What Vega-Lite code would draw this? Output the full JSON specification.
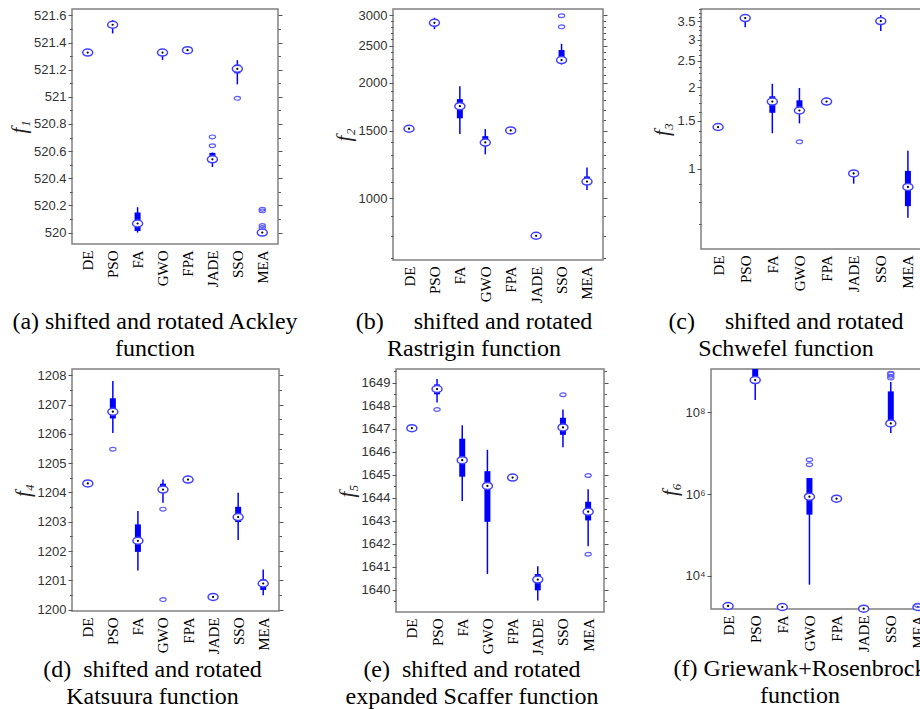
{
  "$schema": "https://vega.github.io/schema/vega-lite/v6.json",
  "background": "white",
  "padding": {"left": 7, "top": 2, "right": 0, "bottom": 0},
  "bounds": "flush",
  "spacing": 360,
  "datasets": {
    "stats": [
      {"f": "f1", "alg": "DE", "lo": 521.326, "q1": 521.326, "med": 521.326, "q3": 521.326, "hi": 521.326},
      {"f": "f1", "alg": "PSO", "lo": 521.467, "q1": 521.524, "med": 521.531, "q3": 521.548, "hi": 521.565},
      {"f": "f1", "alg": "FA", "lo": 520.0, "q1": 520.012, "med": 520.067, "q3": 520.148, "hi": 520.187},
      {"f": "f1", "alg": "GWO", "lo": 521.272, "q1": 521.318, "med": 521.326, "q3": 521.334, "hi": 521.336},
      {"f": "f1", "alg": "FPA", "lo": 521.344, "q1": 521.344, "med": 521.344, "q3": 521.344, "hi": 521.344},
      {"f": "f1", "alg": "JADE", "lo": 520.483, "q1": 520.538, "med": 520.54, "q3": 520.587, "hi": 520.59},
      {"f": "f1", "alg": "SSO", "lo": 521.092, "q1": 521.173, "med": 521.206, "q3": 521.237, "hi": 521.27},
      {"f": "f1", "alg": "MEA", "lo": 519.998, "q1": 520.0, "med": 520.0, "q3": 520.004, "hi": 520.008},
      {"f": "f2", "alg": "DE", "lo": 1518, "q1": 1518, "med": 1518, "q3": 1518, "hi": 1518},
      {"f": "f2", "alg": "PSO", "lo": 2757, "q1": 2850, "med": 2865, "q3": 2930, "hi": 2953},
      {"f": "f2", "alg": "FA", "lo": 1470, "q1": 1616, "med": 1738, "q3": 1813, "hi": 1957},
      {"f": "f2", "alg": "GWO", "lo": 1302, "q1": 1367, "med": 1398, "q3": 1452, "hi": 1515},
      {"f": "f2", "alg": "FPA", "lo": 1503, "q1": 1503, "med": 1503, "q3": 1503, "hi": 1503},
      {"f": "f2", "alg": "JADE", "lo": 799, "q1": 799, "med": 799, "q3": 799, "hi": 799},
      {"f": "f2", "alg": "SSO", "lo": 2231, "q1": 2254, "med": 2291, "q3": 2433, "hi": 2527},
      {"f": "f2", "alg": "MEA", "lo": 1052, "q1": 1101, "med": 1106, "q3": 1140, "hi": 1204},
      {"f": "f3", "alg": "DE", "lo": 1.424, "q1": 1.424, "med": 1.424, "q3": 1.424, "hi": 1.424},
      {"f": "f3", "alg": "PSO", "lo": 3.33, "q1": 3.55, "med": 3.6, "q3": 3.66, "hi": 3.7},
      {"f": "f3", "alg": "FA", "lo": 1.351, "q1": 1.607, "med": 1.768, "q3": 1.85, "hi": 2.058},
      {"f": "f3", "alg": "GWO", "lo": 1.469, "q1": 1.62, "med": 1.639, "q3": 1.788, "hi": 1.985},
      {"f": "f3", "alg": "FPA", "lo": 1.768, "q1": 1.768, "med": 1.768, "q3": 1.768, "hi": 1.768},
      {"f": "f3", "alg": "JADE", "lo": 0.879, "q1": 0.955, "med": 0.959, "q3": 0.962, "hi": 0.962},
      {"f": "f3", "alg": "SSO", "lo": 3.225, "q1": 3.47, "med": 3.51, "q3": 3.58, "hi": 3.7},
      {"f": "f3", "alg": "MEA", "lo": 0.658, "q1": 0.726, "med": 0.855, "q3": 0.98, "hi": 1.164},
      {"f": "f4", "alg": "DE", "lo": 1204.31, "q1": 1204.31, "med": 1204.31, "q3": 1204.31, "hi": 1204.31},
      {"f": "f4", "alg": "PSO", "lo": 1206.03, "q1": 1206.53, "med": 1206.76, "q3": 1207.22, "hi": 1207.81},
      {"f": "f4", "alg": "FA", "lo": 1201.33, "q1": 1201.97, "med": 1202.35, "q3": 1202.91, "hi": 1203.37},
      {"f": "f4", "alg": "GWO", "lo": 1203.65, "q1": 1204.04, "med": 1204.1, "q3": 1204.3, "hi": 1204.44},
      {"f": "f4", "alg": "FPA", "lo": 1204.44, "q1": 1204.44, "med": 1204.44, "q3": 1204.44, "hi": 1204.44},
      {"f": "f4", "alg": "JADE", "lo": 1200.43, "q1": 1200.43, "med": 1200.43, "q3": 1200.43, "hi": 1200.43},
      {"f": "f4", "alg": "SSO", "lo": 1202.38, "q1": 1202.99, "med": 1203.16, "q3": 1203.51, "hi": 1203.99},
      {"f": "f4", "alg": "MEA", "lo": 1200.49, "q1": 1200.67, "med": 1200.89, "q3": 1201.03, "hi": 1201.37},
      {"f": "f5", "alg": "DE", "lo": 1647.02, "q1": 1647.02, "med": 1647.02, "q3": 1647.02, "hi": 1647.02},
      {"f": "f5", "alg": "PSO", "lo": 1648.13, "q1": 1648.49, "med": 1648.72, "q3": 1648.92, "hi": 1649.16},
      {"f": "f5", "alg": "FA", "lo": 1643.85, "q1": 1644.91, "med": 1645.63, "q3": 1646.56, "hi": 1647.15},
      {"f": "f5", "alg": "GWO", "lo": 1640.68, "q1": 1642.95, "med": 1644.51, "q3": 1645.15, "hi": 1646.08},
      {"f": "f5", "alg": "FPA", "lo": 1644.87, "q1": 1644.87, "med": 1644.87, "q3": 1644.87, "hi": 1644.87},
      {"f": "f5", "alg": "JADE", "lo": 1639.53, "q1": 1639.97, "med": 1640.44, "q3": 1640.68, "hi": 1641.02},
      {"f": "f5", "alg": "SSO", "lo": 1646.19, "q1": 1646.73, "med": 1647.05, "q3": 1647.47, "hi": 1647.83},
      {"f": "f5", "alg": "MEA", "lo": 1641.89, "q1": 1643.01, "med": 1643.39, "q3": 1643.82, "hi": 1644.36},
      {"f": "f6", "alg": "DE", "lo": 1849, "q1": 1849, "med": 1849, "q3": 1849, "hi": 1849},
      {"f": "f6", "alg": "PSO", "lo": 200000000, "q1": 500000000, "med": 617000000, "q3": 1200000000, "hi": 1500000000},
      {"f": "f6", "alg": "FA", "lo": 1746, "q1": 1746, "med": 1746, "q3": 1746, "hi": 1746},
      {"f": "f6", "alg": "GWO", "lo": 6140, "q1": 316000, "med": 869000, "q3": 2480000, "hi": 2480000},
      {"f": "f6", "alg": "FPA", "lo": 776000, "q1": 776000, "med": 776000, "q3": 776000, "hi": 776000},
      {"f": "f6", "alg": "JADE", "lo": 1590, "q1": 1590, "med": 1590, "q3": 1590, "hi": 1590},
      {"f": "f6", "alg": "SSO", "lo": 31300000, "q1": 53800000, "med": 53800000, "q3": 326000000, "hi": 550000000},
      {"f": "f6", "alg": "MEA", "lo": 1746, "q1": 1746, "med": 1746, "q3": 1746, "hi": 1746}
    ],
    "out": [
      {"f": "f1", "alg": "JADE", "v": 520.64},
      {"f": "f1", "alg": "JADE", "v": 520.705},
      {"f": "f1", "alg": "SSO", "v": 520.989},
      {"f": "f1", "alg": "MEA", "v": 520.172},
      {"f": "f1", "alg": "MEA", "v": 520.16},
      {"f": "f1", "alg": "MEA", "v": 520.052},
      {"f": "f1", "alg": "MEA", "v": 520.037},
      {"f": "f2", "alg": "SSO", "v": 2989},
      {"f": "f2", "alg": "SSO", "v": 2796},
      {"f": "f3", "alg": "GWO", "v": 1.255},
      {"f": "f4", "alg": "PSO", "v": 1205.48},
      {"f": "f4", "alg": "GWO", "v": 1203.43},
      {"f": "f4", "alg": "GWO", "v": 1200.34},
      {"f": "f5", "alg": "PSO", "v": 1647.83},
      {"f": "f5", "alg": "SSO", "v": 1648.47},
      {"f": "f5", "alg": "MEA", "v": 1644.96},
      {"f": "f5", "alg": "MEA", "v": 1641.54},
      {"f": "f6", "alg": "GWO", "v": 6970000},
      {"f": "f6", "alg": "GWO", "v": 5260000},
      {"f": "f6", "alg": "SSO", "v": 910000000},
      {"f": "f6", "alg": "SSO", "v": 860000000},
      {"f": "f6", "alg": "SSO", "v": 760000000},
      {"f": "f6", "alg": "SSO", "v": 690000000},
      {"f": "f6", "alg": "MEA", "v": 1900}
    ]
  },
  "vconcat": [
    {
      "bounds": "flush",
      "spacing": 115,
      "hconcat": [
        {
          "width": 206, "height": 235,
          "title": {"text": ["(a) shifted and rotated Ackley", "function"], "offset": 23, "dx": -20},
          "data": {"name": "stats"},
          "transform": [{"filter": "datum.f == 'f1'"}],
          "encoding": {"x": {"field": "alg", "type": "nominal", "scale": {"type": "point", "padding": 0.63, "domain": ["DE", "PSO", "FA", "GWO", "FPA", "JADE", "SSO", "MEA"]}, "axis": {"title": null}}},
          "resolve": {"axis": {"y": "independent"}},
          "layer": [
            {"mark": {"type": "rule", "color": "#0000ff", "strokeWidth": 1.5, "clip": true},
             "encoding": {"y": {"field": "lo", "type": "quantitative", "scale": {"domain": [519.916, 521.647], "nice": false, "zero": false},
               "axis": {"orient": "left", "title": "f₁", "values": [520, 520.1, 520.2, 520.3, 520.4, 520.5, 520.6, 520.7, 520.8, 520.9, 521, 521.1, 521.2, 521.3, 521.4, 521.5, 521.6], "labelExpr": "round(datum.value*10) % 2 == 0 ? '' + datum.value : ''", "tickSize": {"condition": {"test": "round(datum.value*10) % 2 == 0", "value": 4}, "value": 2.5}}},
               "y2": {"field": "hi"}}},
            {"mark": {"type": "bar", "color": "#0000ff", "width": 6, "clip": true},
             "encoding": {"y": {"field": "q1", "type": "quantitative",
               "axis": {"orient": "right", "labels": false, "title": null, "values": [520, 520.1, 520.2, 520.3, 520.4, 520.5, 520.6, 520.7, 520.8, 520.9, 521, 521.1, 521.2, 521.3, 521.4, 521.5, 521.6], "tickSize": {"condition": {"test": "round(datum.value*10) % 2 == 0", "value": 4}, "value": 2.5}}},
               "y2": {"field": "q3"}}},
            {"mark": {"type": "point", "shape": "M-1,0A1,0.7,0,1,1,1,0A1,0.7,0,1,1,-1,0Z", "size": 100, "filled": true, "fill": "white", "stroke": "#4040ff", "strokeWidth": 1.5, "opacity": 1},
             "encoding": {"y": {"field": "med", "type": "quantitative", "axis": null}}},
            {"mark": {"type": "point", "shape": "circle", "size": 5, "filled": true, "color": "black", "opacity": 1},
             "encoding": {"y": {"field": "med", "type": "quantitative", "axis": null}}},
            {"data": {"name": "out"}, "transform": [{"filter": "datum.f == 'f1'"}],
             "mark": {"type": "point", "shape": "M-1,0A1,0.6,0,1,1,1,0A1,0.6,0,1,1,-1,0Z", "size": 40, "filled": false, "stroke": "#5c5cff", "strokeWidth": 1.2, "opacity": 1},
             "encoding": {"y": {"field": "v", "type": "quantitative", "axis": null}}}
          ]
        },
        {
          "bounds": "flush",
          "spacing": 98,
          "hconcat": [
            {
              "width": 210, "height": 251,
              "title": {"text": ["(b)\u00a0\u00a0\u00a0\u00a0 shifted and rotated", "Rastrigin function"], "offset": 7, "dx": -24},
              "data": {"name": "stats"},
              "transform": [{"filter": "datum.f == 'f2'"}],
              "encoding": {"x": {"field": "alg", "type": "nominal", "scale": {"type": "point", "padding": 0.63, "domain": ["DE", "PSO", "FA", "GWO", "FPA", "JADE", "SSO", "MEA"]}, "axis": {"title": null}}},
              "resolve": {"axis": {"y": "independent"}},
              "layer": [
                {"mark": {"type": "rule", "color": "#0000ff", "strokeWidth": 1.5, "clip": true},
                 "encoding": {"y": {"field": "lo", "type": "quantitative", "scale": {"type": "log", "domain": [691, 3112], "nice": false, "zero": false},
                   "axis": {"orient": "left", "title": "f₂", "values": [700, 800, 900, 1000, 1100, 1200, 1300, 1400, 1500, 1600, 1700, 1800, 1900, 2000, 2100, 2200, 2300, 2400, 2500, 2600, 2700, 2800, 2900, 3000], "labelExpr": "datum.value % 500 == 0 && datum.value >= 1000 ? '' + datum.value : ''", "tickSize": {"condition": {"test": "datum.value % 500 == 0 && datum.value >= 1000", "value": 4}, "value": 2.5}}},
                   "y2": {"field": "hi"}}},
                {"mark": {"type": "bar", "color": "#0000ff", "width": 6, "clip": true},
                 "encoding": {"y": {"field": "q1", "type": "quantitative",
                   "axis": {"orient": "right", "labels": false, "title": null, "values": [700, 800, 900, 1000, 1100, 1200, 1300, 1400, 1500, 1600, 1700, 1800, 1900, 2000, 2100, 2200, 2300, 2400, 2500, 2600, 2700, 2800, 2900, 3000], "tickSize": {"condition": {"test": "datum.value % 500 == 0 && datum.value >= 1000", "value": 4}, "value": 2.5}}},
                   "y2": {"field": "q3"}}},
                {"mark": {"type": "point", "shape": "M-1,0A1,0.7,0,1,1,1,0A1,0.7,0,1,1,-1,0Z", "size": 100, "filled": true, "fill": "white", "stroke": "#4040ff", "strokeWidth": 1.5, "opacity": 1},
                 "encoding": {"y": {"field": "med", "type": "quantitative", "axis": null}}},
                {"mark": {"type": "point", "shape": "circle", "size": 5, "filled": true, "color": "black", "opacity": 1},
                 "encoding": {"y": {"field": "med", "type": "quantitative", "axis": null}}},
                {"data": {"name": "out"}, "transform": [{"filter": "datum.f == 'f2'"}],
                 "mark": {"type": "point", "shape": "M-1,0A1,0.6,0,1,1,1,0A1,0.6,0,1,1,-1,0Z", "size": 40, "filled": false, "stroke": "#5c5cff", "strokeWidth": 1.2, "opacity": 1},
                 "encoding": {"y": {"field": "v", "type": "quantitative", "axis": null}}}
              ]
            },
            {
              "width": 224, "height": 240,
              "title": {"text": ["(c)\u00a0\u00a0\u00a0\u00a0 shifted and rotated", "Schwefel function"], "offset": 18, "dx": -27},
              "data": {"name": "stats"},
              "transform": [{"filter": "datum.f == 'f3'"}],
              "encoding": {"x": {"field": "alg", "type": "nominal", "scale": {"type": "point", "padding": 0.63, "domain": ["DE", "PSO", "FA", "GWO", "FPA", "JADE", "SSO", "MEA"]}, "axis": {"title": null}}},
              "resolve": {"axis": {"y": "independent"}},
              "layer": [
                {"mark": {"type": "rule", "color": "#0000ff", "strokeWidth": 1.5, "clip": true},
                 "encoding": {"y": {"field": "lo", "type": "quantitative", "scale": {"type": "log", "domain": [0.504, 3.89], "nice": false, "zero": false},
                   "axis": {"orient": "left", "title": "f₃", "values": [0.625, 0.75, 0.875, 1, 1.125, 1.25, 1.375, 1.5, 1.625, 1.75, 1.875, 2, 2.125, 2.25, 2.375, 2.5, 2.625, 2.75, 2.875, 3, 3.125, 3.25, 3.375, 3.5, 3.625, 3.75, 3.875], "labelExpr": "datum.value >= 1 && round(datum.value*2) == datum.value*2 ? '' + datum.value : ''", "tickSize": {"condition": {"test": "datum.value >= 1 && round(datum.value*2) == datum.value*2", "value": 4}, "value": 2.5}}},
                   "y2": {"field": "hi"}}},
                {"mark": {"type": "bar", "color": "#0000ff", "width": 6, "clip": true},
                 "encoding": {"y": {"field": "q1", "type": "quantitative",
                   "axis": {"orient": "right", "labels": false, "title": null, "values": [0.625, 0.75, 0.875, 1, 1.125, 1.25, 1.375, 1.5, 1.625, 1.75, 1.875, 2, 2.125, 2.25, 2.375, 2.5, 2.625, 2.75, 2.875, 3, 3.125, 3.25, 3.375, 3.5, 3.625, 3.75, 3.875], "tickSize": {"condition": {"test": "datum.value >= 1 && round(datum.value*2) == datum.value*2", "value": 4}, "value": 2.5}}},
                   "y2": {"field": "q3"}}},
                {"mark": {"type": "point", "shape": "M-1,0A1,0.7,0,1,1,1,0A1,0.7,0,1,1,-1,0Z", "size": 100, "filled": true, "fill": "white", "stroke": "#4040ff", "strokeWidth": 1.5, "opacity": 1},
                 "encoding": {"y": {"field": "med", "type": "quantitative", "axis": null}}},
                {"mark": {"type": "point", "shape": "circle", "size": 5, "filled": true, "color": "black", "opacity": 1},
                 "encoding": {"y": {"field": "med", "type": "quantitative", "axis": null}}},
                {"data": {"name": "out"}, "transform": [{"filter": "datum.f == 'f3'"}],
                 "mark": {"type": "point", "shape": "M-1,0A1,0.6,0,1,1,1,0A1,0.6,0,1,1,-1,0Z", "size": 40, "filled": false, "stroke": "#5c5cff", "strokeWidth": 1.2, "opacity": 1},
                 "encoding": {"y": {"field": "v", "type": "quantitative", "axis": null}}}
              ]
            }
          ]
        }
      ]
    },
    {
      "bounds": "flush",
      "spacing": 117,
      "hconcat": [
        {
          "width": 207, "height": 242,
          "title": {"text": ["(d)\u00a0 shifted and rotated", "Katsuura function"], "offset": 4, "dx": -23},
          "data": {"name": "stats"},
          "transform": [{"filter": "datum.f == 'f4'"}],
          "encoding": {"x": {"field": "alg", "type": "nominal", "scale": {"type": "point", "padding": 0.63, "domain": ["DE", "PSO", "FA", "GWO", "FPA", "JADE", "SSO", "MEA"]}, "axis": {"title": null}}},
          "resolve": {"axis": {"y": "independent"}},
          "layer": [
            {"mark": {"type": "rule", "color": "#0000ff", "strokeWidth": 1.5, "clip": true},
             "encoding": {"y": {"field": "lo", "type": "quantitative", "scale": {"domain": [1199.95, 1208.22], "nice": false, "zero": false},
               "axis": {"orient": "left", "title": "f₄", "values": [1200, 1200.5, 1201, 1201.5, 1202, 1202.5, 1203, 1203.5, 1204, 1204.5, 1205, 1205.5, 1206, 1206.5, 1207, 1207.5, 1208], "labelExpr": "datum.value == round(datum.value) ? '' + datum.value : ''", "tickSize": {"condition": {"test": "datum.value == round(datum.value)", "value": 4}, "value": 2.5}}},
               "y2": {"field": "hi"}}},
            {"mark": {"type": "bar", "color": "#0000ff", "width": 6, "clip": true},
             "encoding": {"y": {"field": "q1", "type": "quantitative",
               "axis": {"orient": "right", "labels": false, "title": null, "values": [1200, 1200.5, 1201, 1201.5, 1202, 1202.5, 1203, 1203.5, 1204, 1204.5, 1205, 1205.5, 1206, 1206.5, 1207, 1207.5, 1208], "tickSize": {"condition": {"test": "datum.value == round(datum.value)", "value": 4}, "value": 2.5}}},
               "y2": {"field": "q3"}}},
            {"mark": {"type": "point", "shape": "M-1,0A1,0.7,0,1,1,1,0A1,0.7,0,1,1,-1,0Z", "size": 100, "filled": true, "fill": "white", "stroke": "#4040ff", "strokeWidth": 1.5, "opacity": 1},
             "encoding": {"y": {"field": "med", "type": "quantitative", "axis": null}}},
            {"mark": {"type": "point", "shape": "circle", "size": 5, "filled": true, "color": "black", "opacity": 1},
             "encoding": {"y": {"field": "med", "type": "quantitative", "axis": null}}},
            {"data": {"name": "out"}, "transform": [{"filter": "datum.f == 'f4'"}],
             "mark": {"type": "point", "shape": "M-1,0A1,0.6,0,1,1,1,0A1,0.6,0,1,1,-1,0Z", "size": 40, "filled": false, "stroke": "#5c5cff", "strokeWidth": 1.2, "opacity": 1},
             "encoding": {"y": {"field": "v", "type": "quantitative", "axis": null}}}
          ]
        },
        {
          "bounds": "flush",
          "spacing": 107,
          "hconcat": [
            {
              "width": 208, "height": 243,
              "title": {"text": ["(e)\u00a0 shifted and rotated", "expanded Scaffer function"], "offset": 3, "dx": -28},
              "data": {"name": "stats"},
              "transform": [{"filter": "datum.f == 'f5'"}],
              "encoding": {"x": {"field": "alg", "type": "nominal", "scale": {"type": "point", "padding": 0.63, "domain": ["DE", "PSO", "FA", "GWO", "FPA", "JADE", "SSO", "MEA"]}, "axis": {"title": null}}},
              "resolve": {"axis": {"y": "independent"}},
              "layer": [
                {"mark": {"type": "rule", "color": "#0000ff", "strokeWidth": 1.5, "clip": true},
                 "encoding": {"y": {"field": "lo", "type": "quantitative", "scale": {"domain": [1639.03, 1649.59], "nice": false, "zero": false},
                   "axis": {"orient": "left", "title": "f₅", "values": [1639.5, 1640, 1640.5, 1641, 1641.5, 1642, 1642.5, 1643, 1643.5, 1644, 1644.5, 1645, 1645.5, 1646, 1646.5, 1647, 1647.5, 1648, 1648.5, 1649, 1649.5], "labelExpr": "datum.value == round(datum.value) ? '' + datum.value : ''", "tickSize": {"condition": {"test": "datum.value == round(datum.value)", "value": 4}, "value": 2.5}}},
                   "y2": {"field": "hi"}}},
                {"mark": {"type": "bar", "color": "#0000ff", "width": 6, "clip": true},
                 "encoding": {"y": {"field": "q1", "type": "quantitative",
                   "axis": {"orient": "right", "labels": false, "title": null, "values": [1639.5, 1640, 1640.5, 1641, 1641.5, 1642, 1642.5, 1643, 1643.5, 1644, 1644.5, 1645, 1645.5, 1646, 1646.5, 1647, 1647.5, 1648, 1648.5, 1649, 1649.5], "tickSize": {"condition": {"test": "datum.value == round(datum.value)", "value": 4}, "value": 2.5}}},
                   "y2": {"field": "q3"}}},
                {"mark": {"type": "point", "shape": "M-1,0A1,0.7,0,1,1,1,0A1,0.7,0,1,1,-1,0Z", "size": 100, "filled": true, "fill": "white", "stroke": "#4040ff", "strokeWidth": 1.5, "opacity": 1},
                 "encoding": {"y": {"field": "med", "type": "quantitative", "axis": null}}},
                {"mark": {"type": "point", "shape": "circle", "size": 5, "filled": true, "color": "black", "opacity": 1},
                 "encoding": {"y": {"field": "med", "type": "quantitative", "axis": null}}},
                {"data": {"name": "out"}, "transform": [{"filter": "datum.f == 'f5'"}],
                 "mark": {"type": "point", "shape": "M-1,0A1,0.6,0,1,1,1,0A1,0.6,0,1,1,-1,0Z", "size": 40, "filled": false, "stroke": "#5c5cff", "strokeWidth": 1.2, "opacity": 1},
                 "encoding": {"y": {"field": "v", "type": "quantitative", "axis": null}}}
              ]
            },
            {
              "width": 224, "height": 240,
              "title": {"text": ["(f) Griewank+Rosenbrock", "function"], "offset": 5, "dx": -23},
              "data": {"name": "stats"},
              "transform": [{"filter": "datum.f == 'f6'"}],
              "encoding": {"x": {"field": "alg", "type": "nominal", "scale": {"type": "point", "padding": 0.63, "domain": ["DE", "PSO", "FA", "GWO", "FPA", "JADE", "SSO", "MEA"]}, "axis": {"title": null}}},
              "resolve": {"axis": {"y": "independent"}},
              "layer": [
                {"mark": {"type": "rule", "color": "#0000ff", "strokeWidth": 1.5, "clip": true},
                 "encoding": {"y": {"field": "lo", "type": "quantitative", "scale": {"type": "log", "domain": [1560, 1150000000], "nice": false, "zero": false},
                   "axis": {"orient": "left", "title": "f₆", "values": [10000, 1000000, 100000000], "labelExpr": "datum.value == 10000 ? '10⁴' : datum.value == 1000000 ? '10⁶' : '10⁸'", "tickSize": 4}},
                   "y2": {"field": "hi"}}},
                {"mark": {"type": "bar", "color": "#0000ff", "width": 6, "clip": true},
                 "encoding": {"y": {"field": "q1", "type": "quantitative",
                   "axis": {"orient": "right", "labels": false, "title": null, "values": [10000, 1000000, 100000000], "tickSize": 4}},
                   "y2": {"field": "q3"}}},
                {"mark": {"type": "point", "shape": "M-1,0A1,0.7,0,1,1,1,0A1,0.7,0,1,1,-1,0Z", "size": 100, "filled": true, "fill": "white", "stroke": "#4040ff", "strokeWidth": 1.5, "opacity": 1},
                 "encoding": {"y": {"field": "med", "type": "quantitative", "axis": null}}},
                {"mark": {"type": "point", "shape": "circle", "size": 5, "filled": true, "color": "black", "opacity": 1},
                 "encoding": {"y": {"field": "med", "type": "quantitative", "axis": null}}},
                {"data": {"name": "out"}, "transform": [{"filter": "datum.f == 'f6'"}],
                 "mark": {"type": "point", "shape": "M-1,0A1,0.6,0,1,1,1,0A1,0.6,0,1,1,-1,0Z", "size": 40, "filled": false, "stroke": "#5c5cff", "strokeWidth": 1.2, "opacity": 1},
                 "encoding": {"y": {"field": "v", "type": "quantitative", "axis": null}}}
              ]
            }
          ]
        }
      ]
    }
  ],
  "config": {
    "view": {"stroke": "#808080", "strokeWidth": 1.5},
    "axis": {"grid": false, "domain": false, "labelOverlap": false, "labelFont": "Liberation Sans", "labelFontSize": 13, "labelColor": "#333333", "tickColor": "#555555", "titleFont": "Liberation Serif", "titleFontStyle": "italic", "titleFontWeight": "normal", "titleFontSize": 21, "titleColor": "#222222"},
    "axisX": {"labelFont": "Liberation Serif", "labelFontSize": 15, "labelColor": "#000000", "labelAngle": -90, "ticks": false, "labelPadding": 6},
    "title": {"font": "Liberation Serif", "fontSize": 24, "fontWeight": "normal", "color": "#000000", "orient": "bottom", "anchor": "middle", "lineHeight": 27}
  }
}
